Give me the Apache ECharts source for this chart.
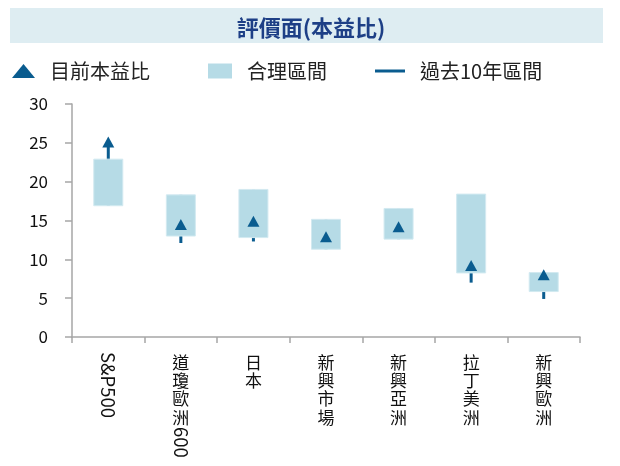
<!DOCTYPE html>
<html><head><meta charset="utf-8">
<script src="https://cdn.jsdelivr.net/npm/echarts@6/dist/echarts.min.js"></script>
<style>html,body{margin:0;padding:0;background:#fff}#c{width:620px;height:466px}</style>
</head><body><div id="c"></div>
<script>
const categories = ['S&P500', '道瓊歐洲600', '日本', '新興市場', '新興亞洲', '拉丁美洲', '新興歐洲'];
const cjkPart = ['', '道瓊歐洲', '日本', '新興市場', '新興亞洲', '拉丁美洲', '新興歐洲'];
const latinHead = ['S&P500', '', '', '', '', '', ''];
const latinTail = ['', '600', '', '', '', '', ''];
const currentPE = [25.1, 14.5, 14.9, 12.9, 14.2, 9.2, 8.0];
const fairLow = [16.9, 13.0, 12.8, 11.3, 12.6, 8.25, 5.85];
const fairHigh = [22.9, 18.3, 19.0, 15.15, 16.55, 18.4, 8.3];
const tenYrLow = [16.9, 12.1, 12.3, 11.3, 12.6, 7.0, 4.9];
const tenYrHigh = [25.1, 18.3, 19.0, 15.15, 16.55, 18.4, 8.3];
const yTicks = [0, 5, 10, 15, 20, 25, 30];

const FONT = '"Noto Sans CJK TC", "Noto Sans", sans-serif';
const DARK = '#0a5c8f';
const BOX = '#b6dbe6';

const chart = echarts.init(document.getElementById('c'), null, {renderer: 'canvas'});

const boxData = categories.map((c, i) => [i, fairLow[i], fairHigh[i]]);
const lineData = categories.map((c, i) => [i, tenYrLow[i], tenYrHigh[i]]);
const ptData = categories.map((c, i) => [i, currentPE[i]]);

function hiddenAxis(extra) {
  return Object.assign({
    type: 'category', data: categories, gridIndex: 0, position: 'bottom',
    axisLine: {show: false}, axisTick: {show: false}, splitLine: {show: false}
  }, extra);
}

chart.setOption({
  animation: false,
  graphic: [{
    type: 'rect', left: 10, top: 8, z: -1,
    shape: {width: 593, height: 35},
    style: {fill: '#deedf2'}
  }],
  title: {
    text: '評價面(本益比)', left: 306, top: 12, textAlign: 'center',
    textStyle: {fontFamily: FONT, fontSize: 22, fontWeight: 'bold', color: '#1d3f86'}
  },
  legend: [
    {left: 12, top: 61, padding: 0, itemWidth: 23, itemHeight: 14, symbolKeepAspect: false,
     data: [{name: '目前本益比', icon: 'triangle'}],
     textStyle: {fontFamily: FONT, fontSize: 20, color: '#222', padding: [0, 0, 0, 10]}},
    {left: 208, top: 61, padding: 0, itemWidth: 24, itemHeight: 15,
     data: [{name: '合理區間', icon: 'rect'}],
     textStyle: {fontFamily: FONT, fontSize: 20, color: '#222', padding: [0, 0, 0, 10]}},
    {left: 375, top: 61, padding: 0, itemWidth: 30, itemHeight: 3,
     data: [{name: '過去10年區間', icon: 'rect'}],
     textStyle: {fontFamily: FONT, fontSize: 20, color: '#222', padding: [0, 0, 0, 10]}}
  ],
  grid: {left: 72, right: 40, top: 104, bottom: 129, outerBoundsMode: 'none', containLabel: false},
  xAxis: [
    {
      type: 'category', data: categories, position: 'bottom',
      axisLine: {lineStyle: {color: '#a6a6a6', width: 1.5}},
      axisTick: {show: true, length: 6, lineStyle: {color: '#a6a6a6', width: 1.5}},
      axisLabel: {
        interval: 0, margin: 16, fontFamily: FONT, fontSize: 17, lineHeight: 18.3,
        color: '#111', verticalAlign: 'top',
        formatter: (v, i) => cjkPart[i].split('').join('\n')
      }
    },
    hiddenAxis({axisLabel: {interval: 0, rotate: -90, margin: 15, fontFamily: FONT, fontSize: 18.5, color: '#111',
      formatter: (v, i) => latinHead[i]}}),
    hiddenAxis({axisLabel: {interval: 0, rotate: -90, margin: 90, fontFamily: FONT, fontSize: 18.5, color: '#111',
      formatter: (v, i) => latinTail[i]}})
  ],
  yAxis: {
    type: 'value', min: 0, max: 30, interval: 5,
    axisLine: {show: true, lineStyle: {color: '#a6a6a6', width: 1.5}},
    axisTick: {show: true, length: 7, lineStyle: {color: '#a6a6a6', width: 1.5}},
    splitLine: {show: false},
    axisLabel: {margin: 24, fontFamily: FONT, fontSize: 17, color: '#111',
      formatter: v => (yTicks.indexOf(v) >= 0 ? String(v) : '')}
  },
  series: [
    {
      name: '過去10年區間', type: 'custom', xAxisIndex: 0, data: lineData,
      itemStyle: {color: DARK},
      renderItem: (params, api) => {
        const a = api.coord([api.value(0), api.value(1)]);
        const b = api.coord([api.value(0), api.value(2)]);
        return {type: 'line', shape: {x1: a[0], y1: a[1], x2: b[0], y2: b[1]},
          style: {stroke: DARK, lineWidth: 3}};
      }
    },
    {
      name: '合理區間', type: 'custom', xAxisIndex: 0, data: boxData,
      itemStyle: {color: BOX},
      renderItem: (params, api) => {
        const lo = api.coord([api.value(0), api.value(1)]);
        const hi = api.coord([api.value(0), api.value(2)]);
        const w = api.size([1, 0])[0] * 0.4;
        return {type: 'rect', shape: {x: lo[0] - w / 2, y: hi[1], width: w, height: lo[1] - hi[1]},
          style: {fill: BOX, stroke: '#d3eaf1', lineWidth: 1}};
      }
    },
    {
      name: '目前本益比', type: 'scatter', xAxisIndex: 0, data: ptData,
      symbol: 'triangle', symbolSize: [12, 11],
      itemStyle: {color: DARK, opacity: 1}
    }
  ]
});
</script></body></html>
